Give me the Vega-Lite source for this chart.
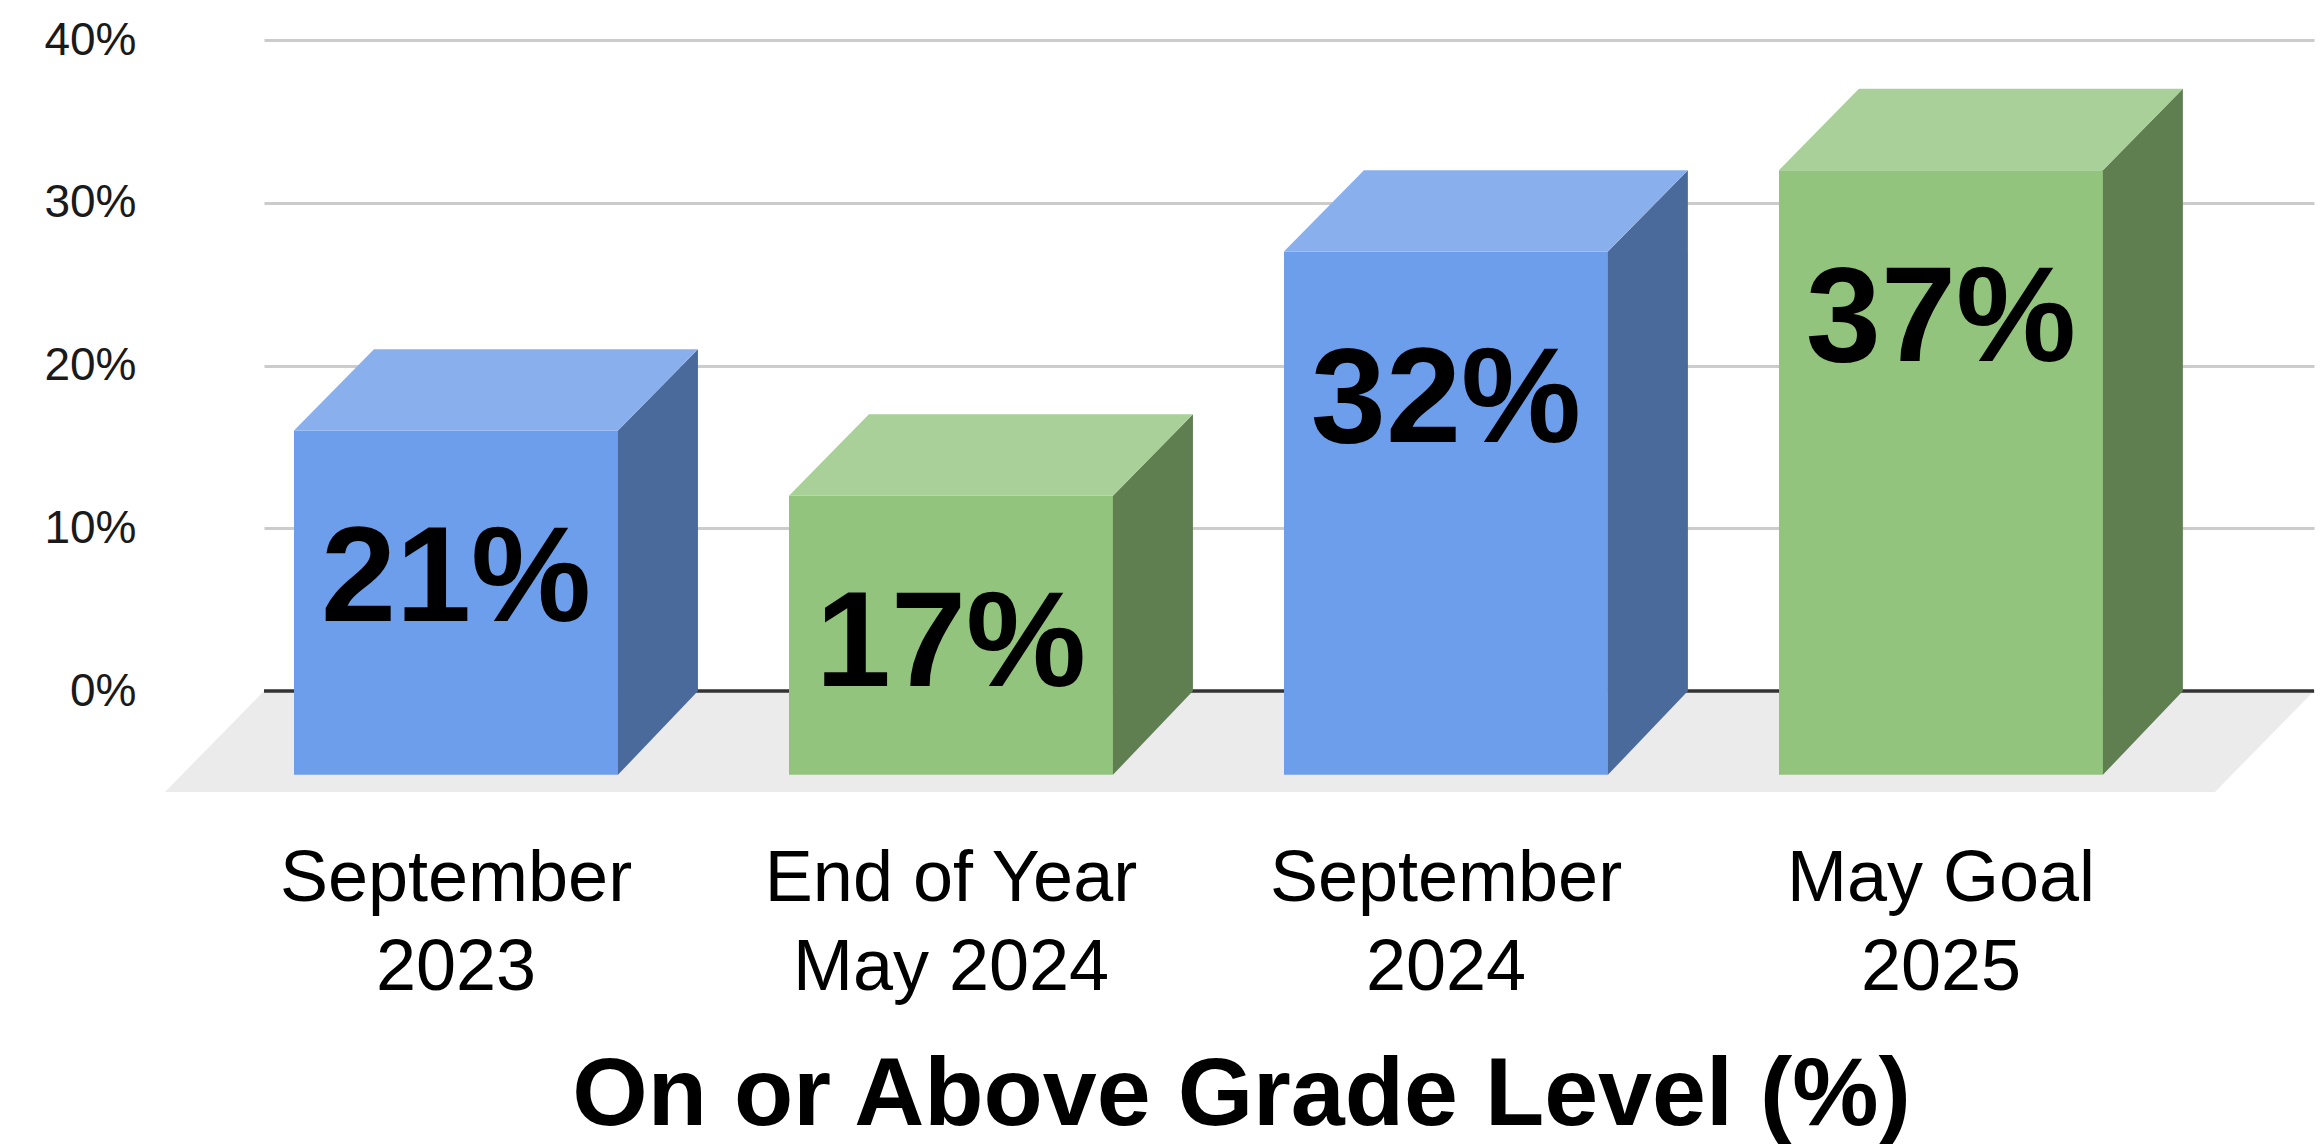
{
  "$schema": "https://vega.github.io/schema/vega-lite/v6.json",
  "width": 2050,
  "height": 651,
  "autosize": "none",
  "padding": {"left": 264, "top": 40, "right": 7, "bottom": 453},
  "background": "white",
  "config": {"view": {"stroke": null}, "font": "Liberation Sans"},
  "datasets": {
    "bars": [
      {"order": 1, "period": "September\n2023", "term": "September", "value": 21},
      {"order": 2, "period": "End of Year\nMay 2024", "term": "May", "value": 17},
      {"order": 3, "period": "September\n2024", "term": "September", "value": 32},
      {"order": 4, "period": "May Goal\n2025", "term": "May", "value": 37}
    ],
    "floor": [{"edge": "back"}, {"edge": "front"}]
  },
  "resolve": {"scale": {"x": "independent", "color": "independent"}, "axis": {"x": "independent"}},
  "layer": [
    {
      "data": {"name": "floor"},
      "transform": [
        {"calculate": "datum.edge === 'back' ? 0 : -6.2", "as": "fy"},
        {"calculate": "datum.edge === 'back' ? -0.0586 : -0.2586", "as": "fx"},
        {"calculate": "datum.edge === 'back' ? 4.083 : 3.883", "as": "fx2"}
      ],
      "mark": {"type": "area", "orient": "horizontal", "fill": "#ebebeb"},
      "encoding": {
        "y": {
          "field": "fy", "type": "quantitative", "scale": {"domain": [0, 40], "nice": false},
          "axis": {
            "title": null, "values": [0, 10, 20, 30, 40], "labelExpr": "datum.value + '%'",
            "labelFont": "Liberation Sans", "labelFontSize": 46, "labelColor": "#1a1a1a", "labelPadding": 128,
            "domain": false, "ticks": false, "grid": true, "gridColor": "#cccccc", "gridWidth": 3
          }
        },
        "x": {"field": "fx", "type": "quantitative", "scale": {"domain": [-0.0586, 4.083], "nice": false, "zero": false}, "axis": null},
        "x2": {"field": "fx2"}
      }
    },
    {
      "data": {"name": "floor"},
      "mark": {"type": "rule", "stroke": "#333333", "strokeWidth": 3},
      "encoding": {"y": {"datum": 0}}
    },
    {
      "data": {"name": "bars"},
      "transform": [
        {"calculate": "datum.value - 5", "as": "frontTop"},
        {"calculate": "-5.15", "as": "frontBase"}
      ],
      "mark": {"type": "bar"},
      "encoding": {
        "x": {
          "field": "period", "type": "nominal", "sort": null,
          "scale": {"range": [-55.5, 1924.5], "paddingInner": 0.3455, "paddingOuter": 0.17275},
          "axis": {
            "title": "On or Above Grade Level (%)",
            "titleFont": "Liberation Sans", "titleFontSize": 97, "titleFontWeight": "bold", "titleColor": "#000000",
            "titleBaseline": "middle", "titleX": 977, "titleY": 404,
            "labelFont": "Liberation Sans", "labelFontSize": 72, "labelColor": "#000000", "labelAngle": 0,
            "labelPadding": 152, "labelLineHeight": 89, "labelExpr": "split(datum.label, '\\n')",
            "labelLimit": 1000, "labelOverlap": false, "labelBound": false,
            "domain": false, "ticks": false, "grid": false
          }
        },
        "y": {"field": "frontTop", "type": "quantitative"},
        "y2": {"field": "frontBase"},
        "color": {"field": "term", "type": "nominal", "scale": {"domain": ["September", "May"], "range": ["#6d9eeb", "#93c47d"]}, "legend": null}
      }
    },
    {
      "data": {"name": "bars"},
      "transform": [
        {"calculate": "datum.order - 1 + 0.6545", "as": "near"},
        {"calculate": "datum.order - 1 + 0.6545 + 0.1616", "as": "far"},
        {"fold": ["near", "far"], "as": ["edge", "xv"]},
        {"calculate": "datum.edge === 'near' ? datum.value - 5 : datum.value", "as": "upper"},
        {"calculate": "datum.edge === 'near' ? -5.15 : 0", "as": "lower"}
      ],
      "mark": {"type": "area", "orient": "vertical"},
      "encoding": {
        "x": {"field": "xv", "type": "quantitative", "scale": {"domain": [-0.0606, 4.081], "nice": false, "zero": false}, "axis": null},
        "y": {"field": "upper", "type": "quantitative"},
        "y2": {"field": "lower"},
        "detail": {"field": "period"},
        "color": {"field": "term", "type": "nominal", "scale": {"domain": ["September", "May"], "range": ["#4a6a9c", "#5f7f51"]}, "legend": null}
      }
    },
    {
      "data": {"name": "bars"},
      "transform": [
        {"calculate": "datum.value - 5", "as": "near"},
        {"calculate": "datum.value", "as": "far"},
        {"fold": ["near", "far"], "as": ["edge", "yv"]},
        {"calculate": "datum.order - 1 + (datum.edge === 'near' ? 0 : 0.1616)", "as": "xl"},
        {"calculate": "datum.xl + 0.6545", "as": "xr"}
      ],
      "mark": {"type": "area", "orient": "horizontal"},
      "encoding": {
        "y": {"field": "yv", "type": "quantitative"},
        "x": {"field": "xl", "type": "quantitative", "scale": {"domain": [-0.0606, 4.081], "nice": false, "zero": false}, "axis": null},
        "x2": {"field": "xr"},
        "detail": {"field": "period"},
        "color": {"field": "term", "type": "nominal", "scale": {"domain": ["September", "May"], "range": ["#8aafed", "#a8d098"]}, "legend": null}
      }
    },
    {
      "data": {"name": "bars"},
      "transform": [
        {"calculate": "datum.order - 1 + 0.32725", "as": "cx"},
        {"calculate": "datum.value + '%'", "as": "pct"}
      ],
      "mark": {"type": "text", "font": "Liberation Sans", "fontWeight": "bold", "fontSize": 135, "color": "#000000", "baseline": "middle", "align": "center", "dy": 231},
      "encoding": {
        "x": {"field": "cx", "type": "quantitative", "scale": {"domain": [-0.0606, 4.081], "nice": false, "zero": false}, "axis": null},
        "y": {"field": "value", "type": "quantitative"},
        "text": {"field": "pct"}
      }
    }
  ]
}
